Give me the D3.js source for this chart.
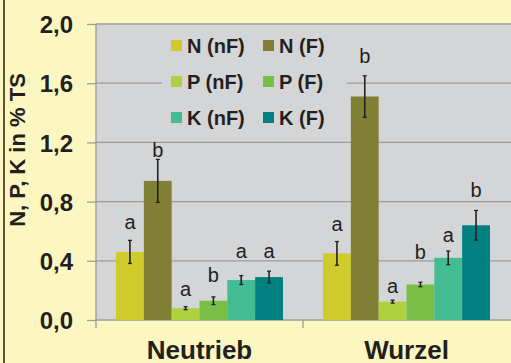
<!DOCTYPE html>
<html>
<head>
<meta charset="utf-8">
<script src="https://cdn.jsdelivr.net/npm/d3@7"></script>
<style>
  html, body { margin: 0; padding: 0; background: #FCF6C0; }
  svg { display: block; font-family: "Liberation Sans", Arial, sans-serif; }
</style>
</head>
<body>
<svg id="chart" width="511" height="363"></svg>
<script>
// Nutrient content (N, P, K in % dry matter) for shoots and roots
const categories = ["Neutrieb", "Wurzel"];
const series = ["N (nF)", "N (F)", "P (nF)", "P (F)", "K (nF)", "K (F)"];
const colors = ["#CFCB2A", "#807F33", "#AED13F", "#79BF45", "#43BC94", "#008080"];

const neutriebMeans  = [0.46, 0.94, 0.08, 0.13, 0.27, 0.29];
const neutriebErrors = [0.078, 0.145, 0.01, 0.026, 0.03, 0.04];
const neutriebLetters = ["a", "b", "a", "b", "a", "a"];
const neutriebLetterLevels = [0.615, 1.10, 0.162, 0.255, 0.42, 0.42];

const wurzelMeans  = [0.45, 1.51, 0.124, 0.24, 0.42, 0.64];
const wurzelErrors = [0.08, 0.14, 0.01, 0.015, 0.046, 0.10];
const wurzelLetters = ["a", "b", "a", "b", "a", "b"];
const wurzelLetterLevels = [0.60, 1.735, 0.18, 0.41, 0.525, 0.83];

const yTicks = [0, 0.4, 0.8, 1.2, 1.6, 2.0];

const groups = [
  { cat: "Neutrieb", means: neutriebMeans, errors: neutriebErrors, letters: neutriebLetters, levels: neutriebLetterLevels },
  { cat: "Wurzel",   means: wurzelMeans,   errors: wurzelErrors,   letters: wurzelLetters,   levels: wurzelLetterLevels }
];

const svg = d3.select("#chart");
const plot = { left: 96, right: 510, top: 24, bottom: 320 };
const textColor = "#231F20";
const gridColor = "#9C9C9C";
const plotBg = "#D4D5D7";

const x0 = d3.scaleBand().domain(categories).range([plot.left, plot.right]).padding(0);
const x1 = d3.scaleBand().domain(series).range([0, x0.bandwidth()]).paddingInner(0).paddingOuter(0.72);
const y = d3.scaleLinear().domain([0, 2]).range([plot.bottom, plot.top]);
const color = d3.scaleOrdinal().domain(series).range(colors);

const locale = d3.formatLocale({ decimal: ",", thousands: ".", grouping: [3], currency: ["", " €"] });
const fmt = locale.format(".1f");

// left frame line
svg.append("line").attr("x1", 4).attr("x2", 4).attr("y1", 0).attr("y2", 363)
  .attr("stroke", "#5E5637").attr("stroke-width", 2);

// plot background
svg.append("rect").attr("x", plot.left).attr("y", plot.top)
  .attr("width", 511 - plot.left).attr("height", plot.bottom - plot.top)
  .attr("fill", plotBg);

// gridlines
svg.append("g").selectAll("line").data(yTicks.filter(d => d > 0)).join("line")
  .attr("x1", plot.left).attr("x2", 511)
  .attr("y1", d => y(d)).attr("y2", d => y(d))
  .attr("stroke", gridColor).attr("stroke-width", 1.3);

// y axis
const yAxis = svg.append("g").attr("transform", `translate(${plot.left},0)`)
  .call(d3.axisLeft(y).tickValues(yTicks).tickFormat(fmt).tickSize(9).tickPadding(14));
yAxis.select(".domain").attr("stroke", gridColor).attr("stroke-width", 1.3)
  .attr("d", `M0,${plot.top}V${plot.bottom + 8}`);
yAxis.selectAll(".tick line").attr("stroke", gridColor).attr("stroke-width", 1.3);
yAxis.selectAll(".tick text").attr("fill", textColor)
  .style("font-size", "24px").style("font-weight", "bold").attr("dy", "0.36em");

// x axis
const xAxis = svg.append("g").attr("transform", `translate(0,${plot.bottom})`)
  .call(d3.axisBottom(x0).tickSize(0).tickPadding(22));
xAxis.select(".domain").attr("stroke", gridColor).attr("stroke-width", 1.3)
  .attr("d", `M${plot.left},0H511`);
xAxis.selectAll(".tick text").attr("fill", textColor)
  .style("font-size", "26px").style("font-weight", "bold").attr("dy", "0.64em");
svg.append("g").selectAll("line").data(categories.slice(1)).join("line")
  .attr("x1", d => x0(d)).attr("x2", d => x0(d))
  .attr("y1", plot.bottom).attr("y2", plot.bottom + 8)
  .attr("stroke", gridColor).attr("stroke-width", 1.3);

// y axis title
svg.append("text")
  .attr("transform", `translate(25,150) rotate(-90)`)
  .attr("text-anchor", "middle")
  .attr("fill", textColor)
  .style("font-size", "22px").style("font-weight", "bold")
  .text("N, P, K in % TS");

// legend (sits on its own background over the gridlines)
const legend = svg.append("g");
legend.append("rect").attr("x", 162).attr("y", 30).attr("width", 185).attr("height", 102).attr("fill", plotBg);
series.forEach((s, i) => {
  const col = i % 2, row = Math.floor(i / 2);
  const lx = 171 + col * 92, ly = 45.5 + row * 36;
  legend.append("rect").attr("x", lx).attr("y", ly - 5.5).attr("width", 11).attr("height", 11).attr("fill", color(s));
  legend.append("text").attr("x", lx + 16).attr("y", ly).attr("dy", "0.36em")
    .attr("fill", textColor).style("font-size", "20px").style("font-weight", "bold").text(s);
});

// bars, error bars, significance letters
const g = svg.append("g").selectAll("g").data(groups).join("g")
  .attr("transform", d => `translate(${x0(d.cat)},0)`);

const items = d => series.map((s, i) => ({ s, v: d.means[i], e: d.errors[i], l: d.letters[i], lv: d.levels[i] }));

g.selectAll("rect").data(items).join("rect")
  .attr("x", d => x1(d.s)).attr("width", x1.bandwidth())
  .attr("y", d => y(d.v)).attr("height", d => y(0) - y(d.v))
  .attr("fill", d => color(d.s));

const eb = g.selectAll("g.err").data(items).join("g").attr("class", "err");
eb.append("line")
  .attr("x1", d => x1(d.s) + x1.bandwidth() / 2).attr("x2", d => x1(d.s) + x1.bandwidth() / 2)
  .attr("y1", d => y(d.v - d.e)).attr("y2", d => y(d.v + d.e))
  .attr("stroke", "#222").attr("stroke-width", 1.6);
["lo", "hi"].forEach(k => {
  eb.append("line")
    .attr("x1", d => x1(d.s) + x1.bandwidth() / 2 - 2).attr("x2", d => x1(d.s) + x1.bandwidth() / 2 + 2)
    .attr("y1", d => y(k === "lo" ? d.v - d.e : d.v + d.e)).attr("y2", d => y(k === "lo" ? d.v - d.e : d.v + d.e))
    .attr("stroke", "#222").attr("stroke-width", 1.3);
});

g.selectAll("text.letter").data(items).join("text").attr("class", "letter")
  .attr("x", d => x1(d.s) + x1.bandwidth() / 2).attr("y", d => y(d.lv))
  .attr("text-anchor", "middle").attr("fill", textColor)
  .style("font-size", "20px").text(d => d.l);
</script>
</body>
</html>
